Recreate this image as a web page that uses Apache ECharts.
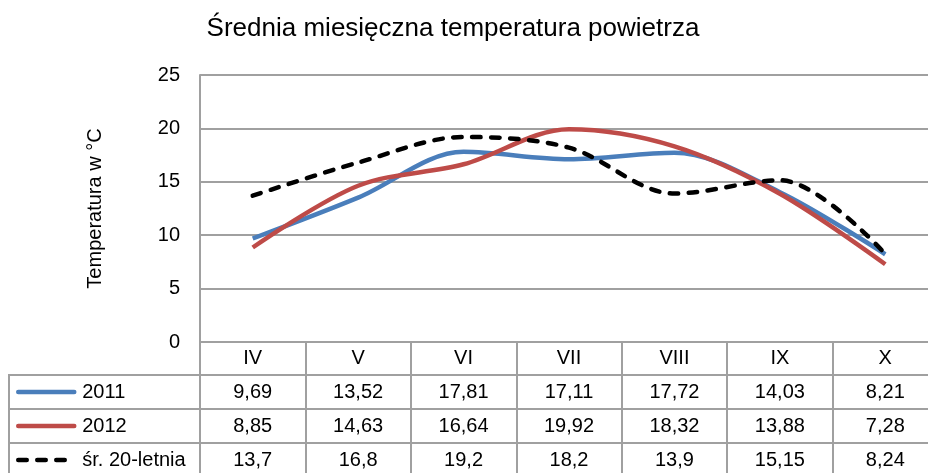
<!DOCTYPE html>
<html>
<head>
<meta charset="utf-8">
<script src="https://cdn.jsdelivr.net/npm/echarts@6/dist/echarts.min.js"></script>
<style>
  html, body { margin: 0; padding: 0; background: #fff; }
  #chart { width: 928px; height: 473px; }
</style>
</head>
<body>
<div id="chart"></div>
<script>
// miesiące (kolumny tabeli)
const months = ['IV', 'V', 'VI', 'VII', 'VIII', 'IX', 'X'];

// temperatury
const t2011 = [9.69, 13.52, 17.81, 17.11, 17.72, 14.03, 8.21];
const t2012 = [8.85, 14.63, 16.64, 19.92, 18.32, 13.88, 7.28];
const tAvg20 = [13.7, 16.8, 19.2, 18.2, 13.9, 15.15, 8.24];

const seriesNames = ['2011', '2012', 'śr. 20-letnia'];
const yTicks = [0, 5, 10, 15, 20, 25];

const gridColor = '#a0a0a0';
const font = 'Liberation Sans, Arial, sans-serif';

// liczby z przecinkiem, jak w tabeli
const fmt = v => String(v).replace('.', ',');

const chart = echarts.init(document.getElementById('chart'), null, { renderer: 'canvas' });

// wiersz tabeli = dodatkowa oś X przesunięta w dół
const rowAxis = (values, offset) => ({
  type: 'category',
  gridIndex: 0,
  position: 'bottom',
  offset: offset,
  data: values.map(fmt),
  axisLine: { show: true, lineStyle: { color: gridColor, width: 2 } },
  axisTick: { show: false },
  axisLabel: { interval: 0, margin: 7, color: '#000', fontSize: 20, fontFamily: font },
  splitLine: { show: false }
});

const option = {
  animation: false,
  backgroundColor: '#fff',
  title: {
    text: 'Średnia miesięczna temperatura powietrza',
    left: 448,
    textAlign: 'center',
    top: 11,
    textStyle: { fontSize: 26, fontWeight: 'normal', color: '#000', fontFamily: font }
  },
  legend: {
    data: seriesNames,
    orient: 'vertical',
    left: 16,
    top: 382,
    padding: 0,
    itemWidth: 56,
    itemHeight: 20,
    itemGap: 14,
    itemStyle: { opacity: 0, borderWidth: 0 },
    lineStyle: { width: 4.5, cap: 'round' },
    textStyle: { fontSize: 20, color: '#000', fontFamily: font, padding: [0, 0, 0, 3] }
  },
  grid: [
    { left: 200, top: 75, width: 738, height: 267, outerBoundsMode: 'none' },
    // lewa kolumna tabeli (legenda)
    { left: 9, top: 375, width: 191, height: 102, show: true, borderColor: gridColor, borderWidth: 2, outerBoundsMode: 'none' }
  ],
  xAxis: [
    {
      type: 'category',
      gridIndex: 0,
      data: months,
      boundaryGap: true,
      axisLine: { show: true, lineStyle: { color: gridColor, width: 2 } },
      axisTick: { show: true, interval: 0, length: 135, lineStyle: { color: gridColor, width: 2 } },
      axisLabel: { interval: 0, margin: 6, color: '#000', fontSize: 20, fontFamily: font },
      splitLine: { show: false }
    },
    rowAxis(t2011, 33),
    rowAxis(t2012, 67),
    rowAxis(tAvg20, 101),
    { type: 'value', gridIndex: 1, show: false }
  ],
  yAxis: [
    {
      type: 'value',
      gridIndex: 0,
      min: yTicks[0],
      max: yTicks[yTicks.length - 1],
      interval: yTicks[1] - yTicks[0],
      name: 'Temperatura w °C',
      nameLocation: 'middle',
      nameGap: 95,
      nameTextStyle: { fontSize: 20, color: '#000', fontFamily: font },
      axisLine: { show: true, lineStyle: { color: gridColor, width: 2 } },
      axisTick: { show: false },
      axisLabel: { margin: 20, color: '#000', fontSize: 20, fontFamily: font },
      splitLine: { show: true, lineStyle: { color: gridColor, width: 2 } }
    },
    {
      type: 'category',
      gridIndex: 1,
      inverse: true,
      data: seriesNames,
      axisLine: { show: false },
      axisTick: { show: false },
      axisLabel: { show: false },
      splitLine: { show: true, interval: 0, lineStyle: { color: gridColor, width: 2 } }
    }
  ],
  series: [
    {
      name: seriesNames[0],
      type: 'line',
      data: t2011,
      smooth: 0.33,
      symbol: 'none',
      color: '#4a7ebb',
      lineStyle: { color: '#4a7ebb', width: 4.5 }
    },
    {
      name: seriesNames[1],
      type: 'line',
      data: t2012,
      smooth: 0.33,
      symbol: 'none',
      color: '#be4b48',
      lineStyle: { color: '#be4b48', width: 4.5 }
    },
    {
      name: seriesNames[2],
      type: 'line',
      data: tAvg20,
      smooth: 0.33,
      symbol: 'none',
      color: '#000',
      lineStyle: { color: '#000', width: 4.5, type: [8.5, 10.5], cap: 'round' }
    }
  ]
};

chart.setOption(option);
</script>
</body>
</html>
